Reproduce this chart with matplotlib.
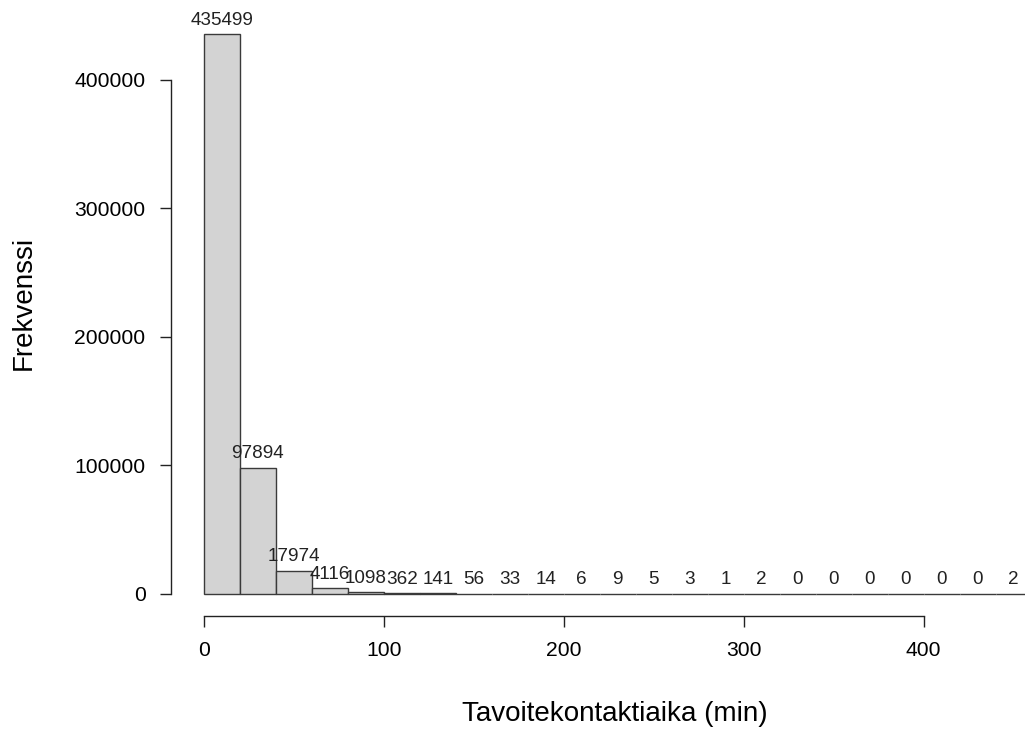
import matplotlib
matplotlib.use("Agg")
import matplotlib.pyplot as plt
import numpy as np

plt.rcParams['font.family'] = ['Liberation Sans', 'DejaVu Sans']

bin_edges = list(range(0, 461, 20))
counts = [435499, 97894, 17974, 4116, 1098, 362, 141, 56, 33, 14, 6, 9, 5, 3, 1, 2,
          0, 0, 0, 0, 0, 0, 2]
xticks = [0, 100, 200, 300, 400]
yticks = [0, 100000, 200000, 300000, 400000]

W, H = 1025, 729
fig = plt.figure(figsize=(W / 100, H / 100), dpi=100)
ax = fig.add_axes([170.6 / W, (H - 616) / H, (1064.8 - 170.6) / W, (616 - 12) / H])

lefts = np.array(bin_edges[:-1])
widths = np.diff(bin_edges)
ax.bar(lefts, counts, width=widths, align='edge', facecolor='#D3D3D3',
       edgecolor='#3a3a3a', linewidth=1.0)
for l, w, c in zip(lefts, widths, counts):
    ax.annotate(str(c), (l + w / 2, c), xytext=(0, 4), textcoords='offset points',
                ha='center', va='bottom', fontsize=13.6, color='#222222')

xmin, xmax = bin_edges[0], bin_edges[-1]
ymax = max(counts)
ax.set_xlim(xmin - 0.04 * (xmax - xmin), xmax + 0.04 * (xmax - xmin))
ax.set_ylim(-0.04 * ymax, ymax * 1.04)

for s in ['top', 'right']:
    ax.spines[s].set_visible(False)
ax.spines['left'].set_bounds(yticks[0], yticks[-1])
ax.spines['bottom'].set_bounds(xticks[0], xticks[-1])
for s in ['left', 'bottom']:
    ax.spines[s].set_linewidth(1.0)
    ax.spines[s].set_color('#222222')
ax.set_xticks(xticks)
ax.set_yticks(yticks)
ax.set_yticklabels([str(v) for v in yticks])
ax.tick_params(axis='both', direction='out', length=8, width=1.0, color='#222222',
               labelsize=15.2, pad=10)

fig.text(615 / W, 1 - 714 / H, 'Tavoitekontaktiaika (min)', fontsize=20,
         ha='center', va='center')
fig.text(24 / W, 1 - 303 / H, 'Frekvenssi', fontsize=20, rotation=90,
         ha='center', va='center')

fig.savefig('out.png', dpi=100)
